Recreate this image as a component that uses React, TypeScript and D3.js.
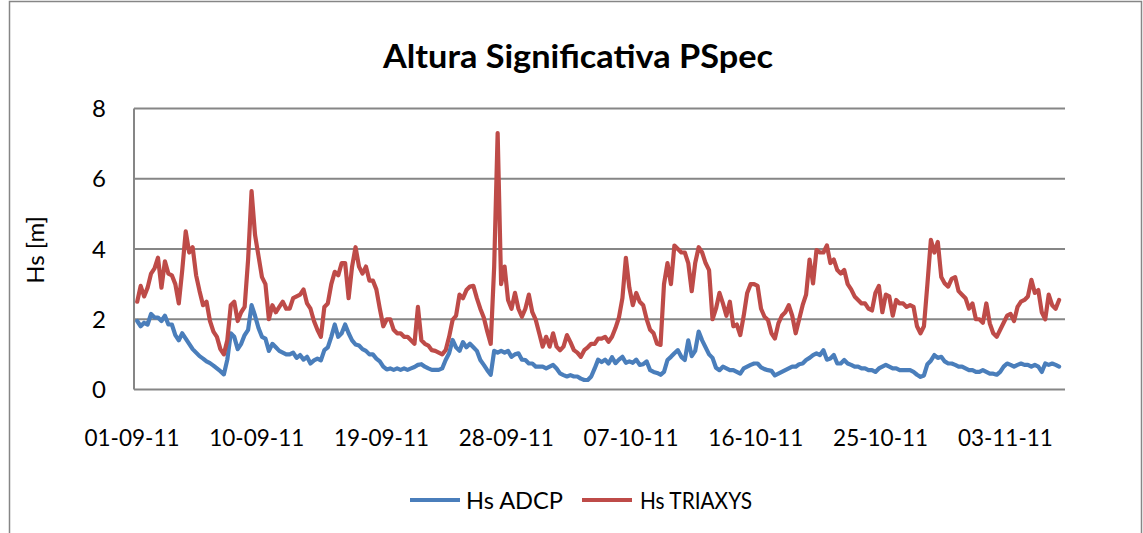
import React from "react";
import * as d3 from "d3";

// ---- data (6-hourly samples starting 01-09-2011 09:00 UTC) ----
const startTime = Date.UTC(2011, 8, 1, 9, 0, 0);
const stepHours = 6;

const hsTriaxys = [
  2.5, 2.95, 2.65, 2.9, 3.3, 3.45, 3.75, 2.9, 3.65, 3.3, 3.25, 3.0, 2.45, 3.4, 4.5, 3.9, 4.05, 3.25, 2.8, 2.4,
  2.5, 1.95, 1.65, 1.5, 1.15, 1.0, 1.4, 2.4, 2.5, 1.95, 2.2, 2.35, 3.7, 5.65, 4.4, 3.8, 3.2, 3.0, 2.0, 2.4,
  2.2, 2.35, 2.5, 2.3, 2.3, 2.6, 2.65, 2.7, 2.85, 2.45, 2.3, 1.95, 1.7, 1.5, 2.35, 2.45, 3.0, 3.35, 3.25, 3.6,
  3.6, 2.6, 3.5, 4.05, 3.5, 3.3, 3.5, 3.1, 3.1, 2.85, 2.3, 1.8, 2.0, 2.0, 1.7, 1.6, 1.6, 1.5, 1.5, 1.4,
  1.3, 2.35, 1.4, 1.3, 1.25, 1.12, 1.1, 1.05, 1.0, 1.12, 1.5, 1.98, 2.1, 2.7, 2.6, 2.83, 2.93, 2.95, 2.6, 2.3,
  2.05, 1.65, 1.3, 3.5, 7.3, 3.0, 3.5, 2.55, 2.3, 2.75, 2.3, 2.07, 2.3, 2.7, 2.2, 1.98, 1.6, 1.22, 1.5, 1.22,
  1.6, 1.22, 1.12, 1.22, 1.55, 1.35, 1.12, 1.05, 0.93, 1.12, 1.2, 1.3, 1.3, 1.45, 1.45, 1.5, 1.36, 1.5, 1.75, 2.05,
  2.6, 3.75, 2.9, 2.4, 2.75, 2.5, 2.4, 2.0, 1.7, 1.6, 1.3, 1.27, 3.0, 3.6, 3.0, 4.1, 4.0, 3.9, 3.9, 3.6,
  2.8, 3.6, 4.05, 3.9, 3.6, 3.4, 2.0, 2.3, 2.75, 2.45, 2.1, 2.5, 1.8, 1.85, 1.55, 2.1, 2.75, 3.0, 3.0, 2.95,
  2.3, 2.07, 1.98, 1.6, 1.45, 1.88, 2.1, 2.2, 2.4, 2.1, 1.6, 2.0, 2.4, 2.7, 3.7, 3.02, 3.97, 3.9, 3.9, 4.1,
  3.6, 3.7, 3.4, 3.3, 3.4, 3.0, 2.85, 2.65, 2.55, 2.45, 2.45, 2.3, 2.25, 2.75, 2.95, 2.2, 2.7, 2.65, 2.1, 2.55,
  2.45, 2.45, 2.35, 2.4, 2.35, 1.8, 1.6, 1.8, 3.0, 4.26, 3.9, 4.2, 3.2, 3.02, 2.93, 3.15, 3.2, 2.8, 2.7, 2.6,
  2.3, 2.45, 2.0, 2.0, 1.9, 2.45, 1.88, 1.6, 1.5, 1.7, 1.9, 2.1, 2.15, 1.95, 2.35, 2.5, 2.55, 2.65, 3.12, 2.75,
  2.83, 2.2, 2.0, 2.7, 2.4, 2.3, 2.55,
];

const hsAdcp = [
  1.95, 1.8, 1.9, 1.85, 2.15, 2.05, 2.05, 1.95, 2.1, 1.85, 1.85, 1.55, 1.4, 1.6, 1.45, 1.3, 1.15, 1.05, 0.95, 0.88,
  0.8, 0.75, 0.68, 0.6, 0.52, 0.43, 0.85, 1.6, 1.5, 1.15, 1.3, 1.55, 1.7, 2.4, 2.1, 1.75, 1.5, 1.45, 1.1, 1.3,
  1.2, 1.1, 1.05, 1.0, 1.0, 1.05, 0.9, 0.98, 0.85, 0.93, 0.74, 0.83, 0.88, 0.83, 1.12, 1.2, 1.5, 1.85, 1.5, 1.6,
  1.85, 1.6, 1.4, 1.28, 1.25, 1.15, 1.1, 1.0, 1.0, 0.88, 0.8, 0.65, 0.57, 0.6, 0.56, 0.6, 0.56, 0.6, 0.56, 0.6,
  0.64, 0.7, 0.72, 0.65, 0.6, 0.56, 0.56, 0.56, 0.6, 0.84, 1.03, 1.41, 1.2, 1.1, 1.35, 1.2, 1.3, 1.2, 1.1, 0.84,
  0.7, 0.55, 0.42, 1.1, 1.05, 1.1, 1.05, 1.1, 0.93, 1.0, 1.03, 0.85, 0.84, 0.74, 0.74, 0.65, 0.65, 0.65, 0.6, 0.65,
  0.7, 0.6, 0.46, 0.41, 0.37, 0.41, 0.37, 0.37, 0.31, 0.27, 0.27, 0.37, 0.6, 0.85, 0.78, 0.85, 0.74, 0.92, 0.75, 0.85,
  0.93, 0.76, 0.8, 0.76, 0.85, 0.7, 0.72, 0.8, 0.55, 0.5, 0.47, 0.42, 0.5, 0.84, 0.93, 1.03, 1.12, 0.93, 0.84, 1.4,
  0.95, 1.1, 1.65, 1.4, 1.2, 1.0, 0.9, 0.62, 0.55, 0.65, 0.6, 0.55, 0.55, 0.5, 0.45, 0.6, 0.65, 0.7, 0.74, 0.74,
  0.63, 0.58, 0.55, 0.53, 0.4, 0.45, 0.5, 0.55, 0.6, 0.65, 0.65, 0.72, 0.74, 0.84, 0.9, 0.98, 1.03, 0.98, 1.12, 0.85,
  0.88, 0.98, 0.74, 0.74, 0.84, 0.74, 0.7, 0.65, 0.65, 0.6, 0.6, 0.55, 0.55, 0.5, 0.6, 0.65, 0.7, 0.65, 0.6, 0.6,
  0.55, 0.55, 0.55, 0.55, 0.5, 0.42, 0.36, 0.4, 0.72, 0.82, 0.98, 0.9, 0.93, 0.8, 0.74, 0.74, 0.7, 0.65, 0.65, 0.6,
  0.55, 0.55, 0.5, 0.5, 0.55, 0.5, 0.45, 0.45, 0.42, 0.5, 0.65, 0.74, 0.7, 0.65, 0.7, 0.74, 0.7, 0.7, 0.65, 0.7,
  0.65, 0.5, 0.74, 0.7, 0.74, 0.7, 0.65,
];

const xTickLabels = ["01-09-11", "10-09-11", "19-09-11", "28-09-11", "07-10-11", "16-10-11", "25-10-11", "03-11-11"];
const yTicks = [0, 2, 4, 6, 8];
const seriesNames = ["Hs ADCP", "Hs TRIAXYS"];
const titleText = "Altura Significativa PSpec";
const yTitle = "Hs [m]";

const axisStart = Date.UTC(2011, 8, 1);
const axisEndDays = 67.3;

const W = 1143;
const H = 533;
const COLORS = ["#4A7EBB", "#BE4B48"];
const GRID = "#868686";
const FONT = "Lato, 'Open Sans', sans-serif";

function parseLabel(s: string) {
  const [dd, mm, yy] = s.split("-").map(Number);
  return new Date(Date.UTC(2000 + yy, mm - 1, dd));
}

export default function App() {
  const x = d3
    .scaleUtc()
    .domain([new Date(axisStart), new Date(axisStart + axisEndDays * 86400000)])
    .range([132, 1065]);
  const y = d3.scaleLinear().domain([0, 8]).range([389.5, 108.5]);

  const toPts = (vals: number[]) =>
    vals.map((v, i) => ({ t: new Date(startTime + i * stepHours * 3600000), v }));

  const line = d3
    .line<{ t: Date; v: number }>()
    .x((d) => x(d.t))
    .y((d) => y(d.v));

  const series = [toPts(hsAdcp), toPts(hsTriaxys)];
  const fmt = d3.utcFormat("%d-%m-%y");
  const plotLeft = 134;
  const plotRight = 1065;

  return (
    <svg
      width={W}
      height={H}
      style={{ position: "absolute", left: 0, top: 0, background: "#fff" }}
      fontFamily={FONT}
    >
      <rect x={0} y={0} width={W} height={H} fill="#fff" />
      {/* chart frame */}
      <path d={`M9.5,${H + 5} V1.5 H1141.5 V${H + 5}`} fill="none" stroke={GRID} strokeWidth={1.5} />
      {/* title */}
      <text
        x={578}
        y={68}
        textAnchor="middle"
        fontSize={33}
        fontWeight="bold"
        fill="#000"
        textLength={390}
        lengthAdjust="spacingAndGlyphs"
      >
        {titleText}
      </text>
      {/* gridlines */}
      {yTicks.map((t) => (
        <line key={t} x1={plotLeft} x2={plotRight} y1={y(t)} y2={y(t)} stroke={GRID} strokeWidth={2} />
      ))}
      <line x1={plotLeft} x2={plotLeft} y1={y(8)} y2={y(0)} stroke={GRID} strokeWidth={2} />
      {/* y tick labels */}
      {yTicks.map((t) => (
        <text key={t} x={106} y={y(t) + 8.5} textAnchor="end" fontSize={24} fill="#000">
          {t}
        </text>
      ))}
      {/* y title */}
      <text transform={`translate(44,250) rotate(-90)`} textAnchor="middle" fontSize={24} fill="#000">
        {yTitle}
      </text>
      {/* x tick labels */}
      {xTickLabels.map((s) => (
        <text
          key={s}
          x={x(parseLabel(s))}
          y={446}
          textAnchor="middle"
          fontSize={24}
          fill="#000"
          textLength={95}
          lengthAdjust="spacingAndGlyphs"
        >
          {fmt(parseLabel(s))}
        </text>
      ))}
      {/* series */}
      {series.map((pts, k) => (
        <path
          key={k}
          d={line(pts) || ""}
          fill="none"
          stroke={COLORS[k]}
          strokeWidth={4.2}
          strokeLinejoin="round"
          strokeLinecap="round"
        />
      ))}
      {/* legend */}
      {[
        { x0: 410, tx: 466, w: 97 },
        { x0: 582, tx: 640, w: 112 },
      ].map((l, k) => (
        <g key={k}>
          <line x1={l.x0} x2={l.x0 + 50} y1={500} y2={500} stroke={COLORS[k]} strokeWidth={4.2} />
          <text x={l.tx} y={509} fontSize={24} fill="#000" textLength={l.w} lengthAdjust="spacingAndGlyphs">
            {seriesNames[k]}
          </text>
        </g>
      ))}
    </svg>
  );
}
